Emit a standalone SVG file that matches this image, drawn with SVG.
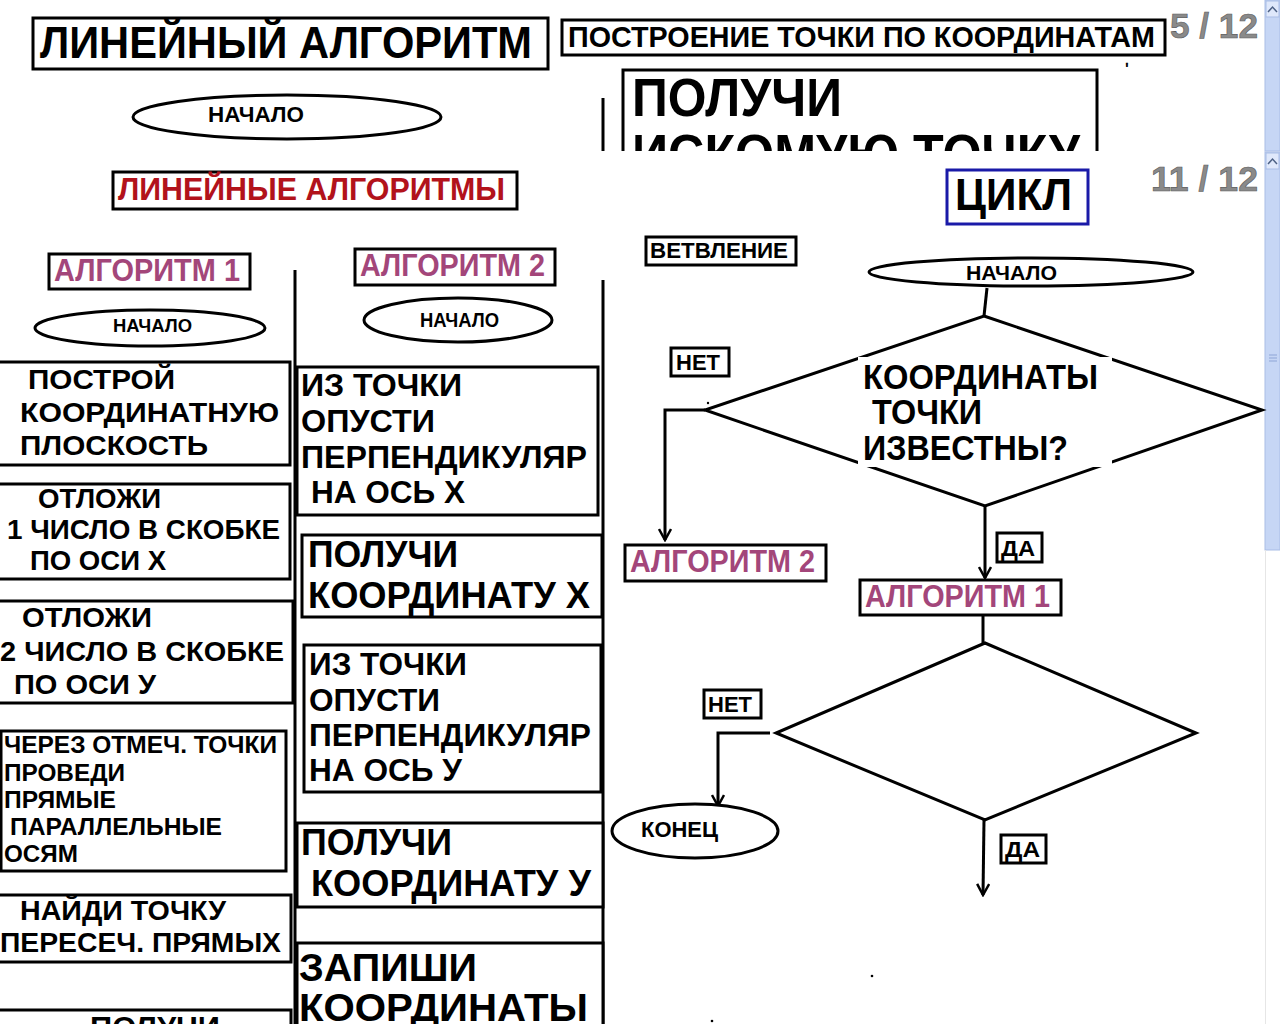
<svg xmlns="http://www.w3.org/2000/svg" width="1280" height="1024" viewBox="0 0 1280 1024">
<style>
text{font-family:"Liberation Sans",Arial,"Noto Sans",sans-serif;font-weight:bold;fill:#000}
.b{fill:#fff;stroke:#000;stroke-width:3}
.ln{fill:none;stroke:#000;stroke-width:3}
.mag{fill:#a3467a}
.red{fill:#b2121b}
.pg{fill:#8a8a8a;stroke:#5a5a5a;stroke-width:0.6}
.sb{fill:#c6d6f5;stroke:#a9bde6;stroke-width:1}
</style>
<defs>
<marker id="ar" viewBox="0 0 14 14" refX="12" refY="7" markerWidth="14" markerHeight="14" markerUnits="userSpaceOnUse" orient="auto">
<path d="M1,1 L12,7 L1,13" fill="none" stroke="#000" stroke-width="2.5"/>
</marker>
<clipPath id="topclip"><rect x="0" y="0" width="1280" height="151"/></clipPath>
</defs>
<rect width="1280" height="1024" fill="#fff"/>

<!-- top strip -->
<g id="top-title">
<rect class="b" x="33" y="18" width="515" height="51"/>
<text x="40" y="58" font-size="45" textLength="492" lengthAdjust="spacingAndGlyphs">ЛИНЕЙНЫЙ АЛГОРИТМ</text>
</g>
<g id="top-start">
<ellipse class="b" cx="287" cy="117" rx="154" ry="22"/>
<text x="208" y="122" font-size="22" textLength="96" lengthAdjust="spacingAndGlyphs">НАЧАЛО</text>
</g>
<g id="top-heading">
<rect class="b" x="562" y="20" width="603" height="35"/>
<text x="568" y="47" font-size="30" textLength="587" lengthAdjust="spacingAndGlyphs">ПОСТРОЕНИЕ ТОЧКИ ПО КООРДИНАТАМ</text>
</g>
<text class="pg" x="1170" y="38" font-size="35" textLength="88" lengthAdjust="spacingAndGlyphs">5 / 12</text>
<text x="1125" y="74" font-size="16" font-weight="normal">ʹ</text>
<g id="top-result" clip-path="url(#topclip)">
<line class="ln" x1="603" y1="98" x2="603" y2="160"/>
<rect class="b" x="623" y="70" width="474" height="110"/>
<text x="632" y="116" font-size="54" textLength="210" lengthAdjust="spacingAndGlyphs">ПОЛУЧИ</text>
<text x="632" y="172" font-size="54" textLength="448" lengthAdjust="spacingAndGlyphs">ИСКОМУЮ ТОЧКУ</text>
</g>
<g id="scroll-top">
<rect class="sb" x="1265" y="0" width="15" height="151"/>
<rect x="1266" y="1" width="13" height="16" fill="#dfe8fb" stroke="#a9bde6"/>
<path d="M1268,12 L1272.5,7 L1277,12" fill="none" stroke="#4d6185" stroke-width="1.5"/>
</g>

<!-- second strip -->
<g id="scroll-main">
<rect class="sb" x="1265" y="152" width="15" height="398"/>
<rect x="1266" y="153" width="13" height="16" fill="#dfe8fb" stroke="#a9bde6"/>
<path d="M1268,164 L1272.5,159 L1277,164" fill="none" stroke="#4d6185" stroke-width="1.5"/>
<path d="M1269,355 h8 M1269,358 h8 M1269,361 h8" stroke="#8ea5d6" stroke-width="1"/>
<line x1="1265.5" y1="550" x2="1265.5" y2="1024" stroke="#e6e6e6" stroke-width="1"/>
</g>
<text class="pg" x="1151" y="191" font-size="35" textLength="107" lengthAdjust="spacingAndGlyphs">11 / 12</text>

<g id="linear-title">
<rect class="b" x="113" y="172" width="404" height="37"/>
<text class="red" x="118" y="200" font-size="31" textLength="387" lengthAdjust="spacingAndGlyphs">ЛИНЕЙНЫЕ АЛГОРИТМЫ</text>
</g>
<g id="cycle-title">
<rect x="947" y="170" width="141" height="54" fill="#fff" stroke="#1a1aa8" stroke-width="3"/>
<text x="955" y="210" font-size="44" textLength="117" lengthAdjust="spacingAndGlyphs">ЦИКЛ</text>
</g>
<g id="branch-title">
<rect class="b" x="646" y="237" width="150" height="28"/>
<text x="650" y="258" font-size="22" textLength="138" lengthAdjust="spacingAndGlyphs">ВЕТВЛЕНИЕ</text>
</g>
<g id="alg1-title">
<rect class="b" x="49" y="254" width="201" height="35"/>
<text class="mag" x="54" y="281" font-size="31" textLength="186" lengthAdjust="spacingAndGlyphs">АЛГОРИТМ 1</text>
</g>
<g id="alg2-title">
<rect class="b" x="355" y="249" width="200" height="36"/>
<text class="mag" x="360" y="276" font-size="31" textLength="185" lengthAdjust="spacingAndGlyphs">АЛГОРИТМ 2</text>
</g>

<g id="connectors">
<line class="ln" x1="295" y1="270" x2="295" y2="1024"/>
<line class="ln" x1="603" y1="280" x2="603" y2="1024"/>
<line class="ln" x1="987" y1="288" x2="984" y2="316"/>
<polyline class="ln" points="705,410 665,410 665,540" marker-end="url(#ar)"/>
<line class="ln" x1="985" y1="506" x2="985" y2="578" marker-end="url(#ar)"/>
<line class="ln" x1="983" y1="615" x2="983" y2="643"/>
<polyline class="ln" points="770,733 718,733 718,806" marker-end="url(#ar)"/>
<line class="ln" x1="984" y1="820" x2="983" y2="895" marker-end="url(#ar)"/>
</g>

<!-- algorithm 1 column -->
<g id="alg1-start">
<ellipse class="b" cx="150" cy="328" rx="115" ry="18"/>
<text x="113" y="332" font-size="19" textLength="79" lengthAdjust="spacingAndGlyphs">НАЧАЛО</text>
</g>
<g id="a1-step1">
<rect class="b" x="-5" y="362" width="295" height="103"/>
<text x="28" y="389" font-size="28" textLength="147" lengthAdjust="spacingAndGlyphs">ПОСТРОЙ</text>
<text x="20" y="422" font-size="28" textLength="259" lengthAdjust="spacingAndGlyphs">КООРДИНАТНУЮ</text>
<text x="20" y="455" font-size="28" textLength="188" lengthAdjust="spacingAndGlyphs">ПЛОСКОСТЬ</text>
</g>
<g id="a1-step2">
<rect class="b" x="-5" y="484" width="295" height="95"/>
<text x="38" y="508" font-size="27" textLength="123" lengthAdjust="spacingAndGlyphs">ОТЛОЖИ</text>
<text x="7" y="539" font-size="27" textLength="273" lengthAdjust="spacingAndGlyphs">1 ЧИСЛО В СКОБКЕ</text>
<text x="30" y="570" font-size="27" textLength="136" lengthAdjust="spacingAndGlyphs">ПО ОСИ Х</text>
</g>
<g id="a1-step3">
<rect class="b" x="-5" y="601" width="298" height="102"/>
<text x="22" y="627" font-size="27" textLength="130" lengthAdjust="spacingAndGlyphs">ОТЛОЖИ</text>
<text x="0" y="661" font-size="27" textLength="284" lengthAdjust="spacingAndGlyphs">2 ЧИСЛО В СКОБКЕ</text>
<text x="14" y="694" font-size="27" textLength="142" lengthAdjust="spacingAndGlyphs">ПО ОСИ У</text>
</g>
<g id="a1-step4">
<rect class="b" x="1" y="731" width="285" height="140"/>
<text x="4" y="753" font-size="23" textLength="273" lengthAdjust="spacingAndGlyphs">ЧЕРЕЗ ОТМЕЧ. ТОЧКИ</text>
<text x="4" y="781" font-size="23" textLength="121" lengthAdjust="spacingAndGlyphs">ПРОВЕДИ</text>
<text x="4" y="808" font-size="23" textLength="112" lengthAdjust="spacingAndGlyphs">ПРЯМЫЕ</text>
<text x="10" y="835" font-size="23" textLength="212" lengthAdjust="spacingAndGlyphs">ПАРАЛЛЕЛЬНЫЕ</text>
<text x="4" y="862" font-size="23" textLength="74" lengthAdjust="spacingAndGlyphs">ОСЯМ</text>
</g>
<g id="a1-step5">
<rect class="b" x="-5" y="895" width="296" height="67"/>
<text x="20" y="920" font-size="27" textLength="206" lengthAdjust="spacingAndGlyphs">НАЙДИ ТОЧКУ</text>
<text x="0" y="952" font-size="27" textLength="281" lengthAdjust="spacingAndGlyphs">ПЕРЕСЕЧ. ПРЯМЫХ</text>
</g>
<g id="a1-step6">
<rect class="b" x="-5" y="1010" width="296" height="40"/>
<text x="90" y="1037" font-size="29" textLength="130" lengthAdjust="spacingAndGlyphs">ПОЛУЧИ</text>
</g>

<!-- algorithm 2 column -->
<g id="alg2-start">
<ellipse class="b" cx="458" cy="320" rx="94" ry="22"/>
<text x="420" y="327" font-size="20" textLength="79" lengthAdjust="spacingAndGlyphs">НАЧАЛО</text>
</g>
<g id="a2-step1">
<rect class="b" x="297" y="367" width="301" height="148"/>
<text x="301" y="396" font-size="32" textLength="161" lengthAdjust="spacingAndGlyphs">ИЗ ТОЧКИ</text>
<text x="301" y="432" font-size="32" textLength="134" lengthAdjust="spacingAndGlyphs">ОПУСТИ</text>
<text x="301" y="468" font-size="32" textLength="286" lengthAdjust="spacingAndGlyphs">ПЕРПЕНДИКУЛЯР</text>
<text x="311" y="503" font-size="32" textLength="154" lengthAdjust="spacingAndGlyphs">НА ОСЬ Х</text>
</g>
<g id="a2-step2">
<rect class="b" x="302" y="535" width="300" height="82"/>
<text x="308" y="567" font-size="36" textLength="150" lengthAdjust="spacingAndGlyphs">ПОЛУЧИ</text>
<text x="308" y="608" font-size="36" textLength="282" lengthAdjust="spacingAndGlyphs">КООРДИНАТУ Х</text>
</g>
<g id="a2-step3">
<rect class="b" x="304" y="645" width="297" height="147"/>
<text x="309" y="675" font-size="32" textLength="158" lengthAdjust="spacingAndGlyphs">ИЗ ТОЧКИ</text>
<text x="309" y="711" font-size="32" textLength="131" lengthAdjust="spacingAndGlyphs">ОПУСТИ</text>
<text x="309" y="746" font-size="32" textLength="282" lengthAdjust="spacingAndGlyphs">ПЕРПЕНДИКУЛЯР</text>
<text x="309" y="781" font-size="32" textLength="153" lengthAdjust="spacingAndGlyphs">НА ОСЬ У</text>
</g>
<g id="a2-step4">
<rect class="b" x="297" y="823" width="306" height="84"/>
<text x="301" y="855" font-size="36" textLength="151" lengthAdjust="spacingAndGlyphs">ПОЛУЧИ</text>
<text x="311" y="896" font-size="36" textLength="280" lengthAdjust="spacingAndGlyphs">КООРДИНАТУ У</text>
</g>
<g id="a2-step5">
<rect class="b" x="297" y="943" width="306" height="100"/>
<text x="299" y="981" font-size="39" textLength="178" lengthAdjust="spacingAndGlyphs">ЗАПИШИ</text>
<text x="299" y="1021" font-size="39" textLength="289" lengthAdjust="spacingAndGlyphs">КООРДИНАТЫ</text>
</g>

<!-- branching / cycle -->
<g id="cyc-start">
<ellipse class="b" cx="1031" cy="272" rx="162" ry="14"/>
<text x="966" y="280" font-size="21" textLength="91" lengthAdjust="spacingAndGlyphs">НАЧАЛО</text>
</g>
<g id="cond1">
<polygon class="b" points="984,316 1262,410 985,506 705,410"/>
<rect x="858" y="357" width="254" height="110" fill="#fff"/>
<text x="863" y="389" font-size="35" textLength="235" lengthAdjust="spacingAndGlyphs">КООРДИНАТЫ</text>
<text x="872" y="424" font-size="35" textLength="110" lengthAdjust="spacingAndGlyphs">ТОЧКИ</text>
<text x="863" y="460" font-size="35" textLength="205" lengthAdjust="spacingAndGlyphs">ИЗВЕСТНЫ?</text>
<circle cx="708" cy="403" r="1.2" fill="#000"/>
</g>
<g id="no1">
<rect class="b" x="671" y="348" width="58" height="28"/>
<text x="676" y="370" font-size="22" textLength="44" lengthAdjust="spacingAndGlyphs">НЕТ</text>
</g>
<g id="branch-alg2">
<rect class="b" x="625" y="545" width="201" height="36"/>
<text class="mag" x="630" y="572" font-size="31" textLength="185" lengthAdjust="spacingAndGlyphs">АЛГОРИТМ 2</text>
</g>
<g id="yes1">
<rect class="b" x="997" y="533" width="45" height="29"/>
<text x="1001" y="556" font-size="22" textLength="34" lengthAdjust="spacingAndGlyphs">ДА</text>
</g>
<g id="branch-alg1">
<rect class="b" x="860" y="580" width="201" height="35"/>
<text class="mag" x="865" y="607" font-size="31" textLength="185" lengthAdjust="spacingAndGlyphs">АЛГОРИТМ 1</text>
</g>
<g id="cond2">
<polygon class="b" points="985,643 1196,733 985,820 776,733"/>
</g>
<g id="no2">
<rect class="b" x="704" y="690" width="57" height="28"/>
<text x="708" y="712" font-size="22" textLength="44" lengthAdjust="spacingAndGlyphs">НЕТ</text>
</g>
<g id="end">
<ellipse class="b" cx="695" cy="831" rx="83" ry="27"/>
<text x="641" y="837" font-size="22" textLength="77" lengthAdjust="spacingAndGlyphs">КОНЕЦ</text>
</g>
<g id="yes2">
<rect class="b" x="1001" y="835" width="45" height="28"/>
<text x="1005" y="857" font-size="22" textLength="35" lengthAdjust="spacingAndGlyphs">ДА</text>
</g>
<circle cx="872" cy="976" r="1.3" fill="#000"/>
<circle cx="712" cy="1021" r="1.3" fill="#000"/>
</svg>
